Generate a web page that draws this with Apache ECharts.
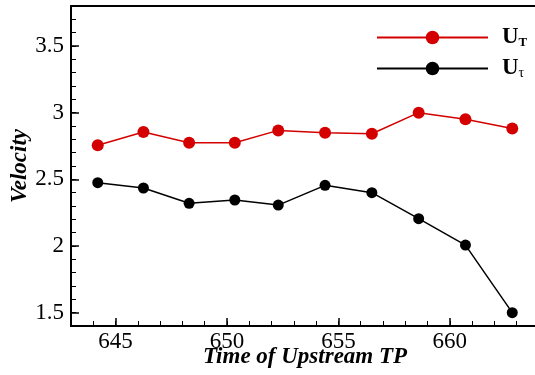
<!DOCTYPE html>
<html><head><meta charset="utf-8">
<script src="https://cdn.jsdelivr.net/npm/echarts@6/dist/echarts.min.js"></script>
<style>html,body{margin:0;padding:0;background:#fff}#c{width:535px;height:375px}</style>
</head><body><div id="c"></div>
<script>
var times = [644.2, 646.25, 648.3, 650.35, 652.3, 654.4, 656.5, 658.6, 660.7, 662.8];
var uT = [2.755, 2.855, 2.775, 2.775, 2.867, 2.85, 2.842, 3.0, 2.95, 2.882];
var uTau = [2.475, 2.435, 2.32, 2.345, 2.307, 2.455, 2.40, 2.205, 2.007, 1.50];
var xTicks = [645, 650, 655, 660];
var xMinor = [643,644,645,646,647,648,649,650,651,652,653,654,655,656,657,658,659,660,661,662,663,664];
var yTicks = [1.5, 2, 2.5, 3, 3.5];
var yMinor = [1.4,1.5,1.6,1.7,1.8,1.9,2.0,2.1,2.2,2.3,2.4,2.5,2.6,2.7,2.8,2.9,3.0,3.1,3.2,3.3,3.4,3.5,3.6,3.7,3.8];

var FONT = 'Liberation Serif';
function pairs(xs, ys){ return xs.map(function(x,i){return [x, ys[i]];}); }

var chart = echarts.init(document.getElementById('c'));
chart.setOption({
  animation: false,
  grid: {left: 71, top: 6, width: 468, height: 320, containLabel: false, outerBoundsMode: 'none',
         show: true, borderColor: '#000', borderWidth: 2, backgroundColor: 'transparent'},
  legend: {
    left: 371, top: 21, orient: 'vertical', itemWidth: 111, itemHeight: 17, itemGap: 8,
    data: ['UT', 'Utau'],
    formatter: function(n){ return n === 'UT' ? '{u|U}{s|T}' : '{u|U}{t|τ}'; },
    textStyle: {
      rich: {
        u: {fontFamily: FONT, fontWeight: 'bold', fontSize: 23, color: '#000', padding: [0,0,0,9]},
        s: {fontFamily: FONT, fontWeight: 'bold', fontSize: 13, color: '#000', verticalAlign: 'bottom', padding: [10,0,0,0]},
        t: {fontFamily: FONT, fontSize: 14, color: '#000', verticalAlign: 'bottom', padding: [10,0,0,0]}
      }
    }
  },
  xAxis: [{
    type: 'value', min: 643, max: 664, position: 'bottom',
    name: 'Time of Upstream TP', nameLocation: 'middle', nameGap: 20, nameMoveOverlap: false,
    nameTextStyle: {fontFamily: FONT, fontWeight: 'bold', fontStyle: 'italic', fontSize: 23, color: '#000'},
    axisLine: {show: true, lineStyle: {color: '#000', width: 2}},
    axisTick: {show: true, inside: true, length: 8, customValues: xTicks, lineStyle: {color: '#000', width: 1.5}},
    axisLabel: {customValues: xTicks, fontFamily: FONT, fontSize: 23, color: '#000', margin: 4},
    splitLine: {show: false}
  }, {
    type: 'value', min: 643, max: 664, position: 'bottom', gridIndex: 0,
    axisLine: {show: false},
    axisTick: {show: true, inside: true, length: 5, customValues: xMinor, lineStyle: {color: '#000', width: 1}},
    axisLabel: {show: false}, splitLine: {show: false}
  }],
  yAxis: [{
    type: 'value', min: 1.4, max: 3.8, position: 'left',
    name: 'Velocity', nameLocation: 'middle', nameGap: 39, nameRotate: 90, nameMoveOverlap: false,
    nameTextStyle: {fontFamily: FONT, fontWeight: 'bold', fontStyle: 'italic', fontSize: 23, color: '#000'},
    axisLine: {show: true, lineStyle: {color: '#000', width: 2}},
    axisTick: {show: true, inside: true, length: 8, customValues: yTicks, lineStyle: {color: '#000', width: 1.5}},
    axisLabel: {customValues: yTicks, fontFamily: FONT, fontSize: 23, color: '#000', margin: 7},
    splitLine: {show: false}
  }, {
    type: 'value', min: 1.4, max: 3.8, position: 'left',
    axisLine: {show: false},
    axisTick: {show: true, inside: true, length: 5, customValues: yMinor, lineStyle: {color: '#000', width: 1}},
    axisLabel: {show: false}, splitLine: {show: false}
  }],
  series: [{
    name: 'UT', type: 'line', data: pairs(times, uT), symbol: 'circle', symbolSize: 12,
    itemStyle: {color: '#d40000'}, lineStyle: {color: '#d40000', width: 1.5}
  }, {
    name: 'Utau', type: 'line', data: pairs(times, uTau), symbol: 'circle', symbolSize: 11,
    itemStyle: {color: '#000'}, lineStyle: {color: '#000', width: 1.5}
  }]
});
</script></body></html>
